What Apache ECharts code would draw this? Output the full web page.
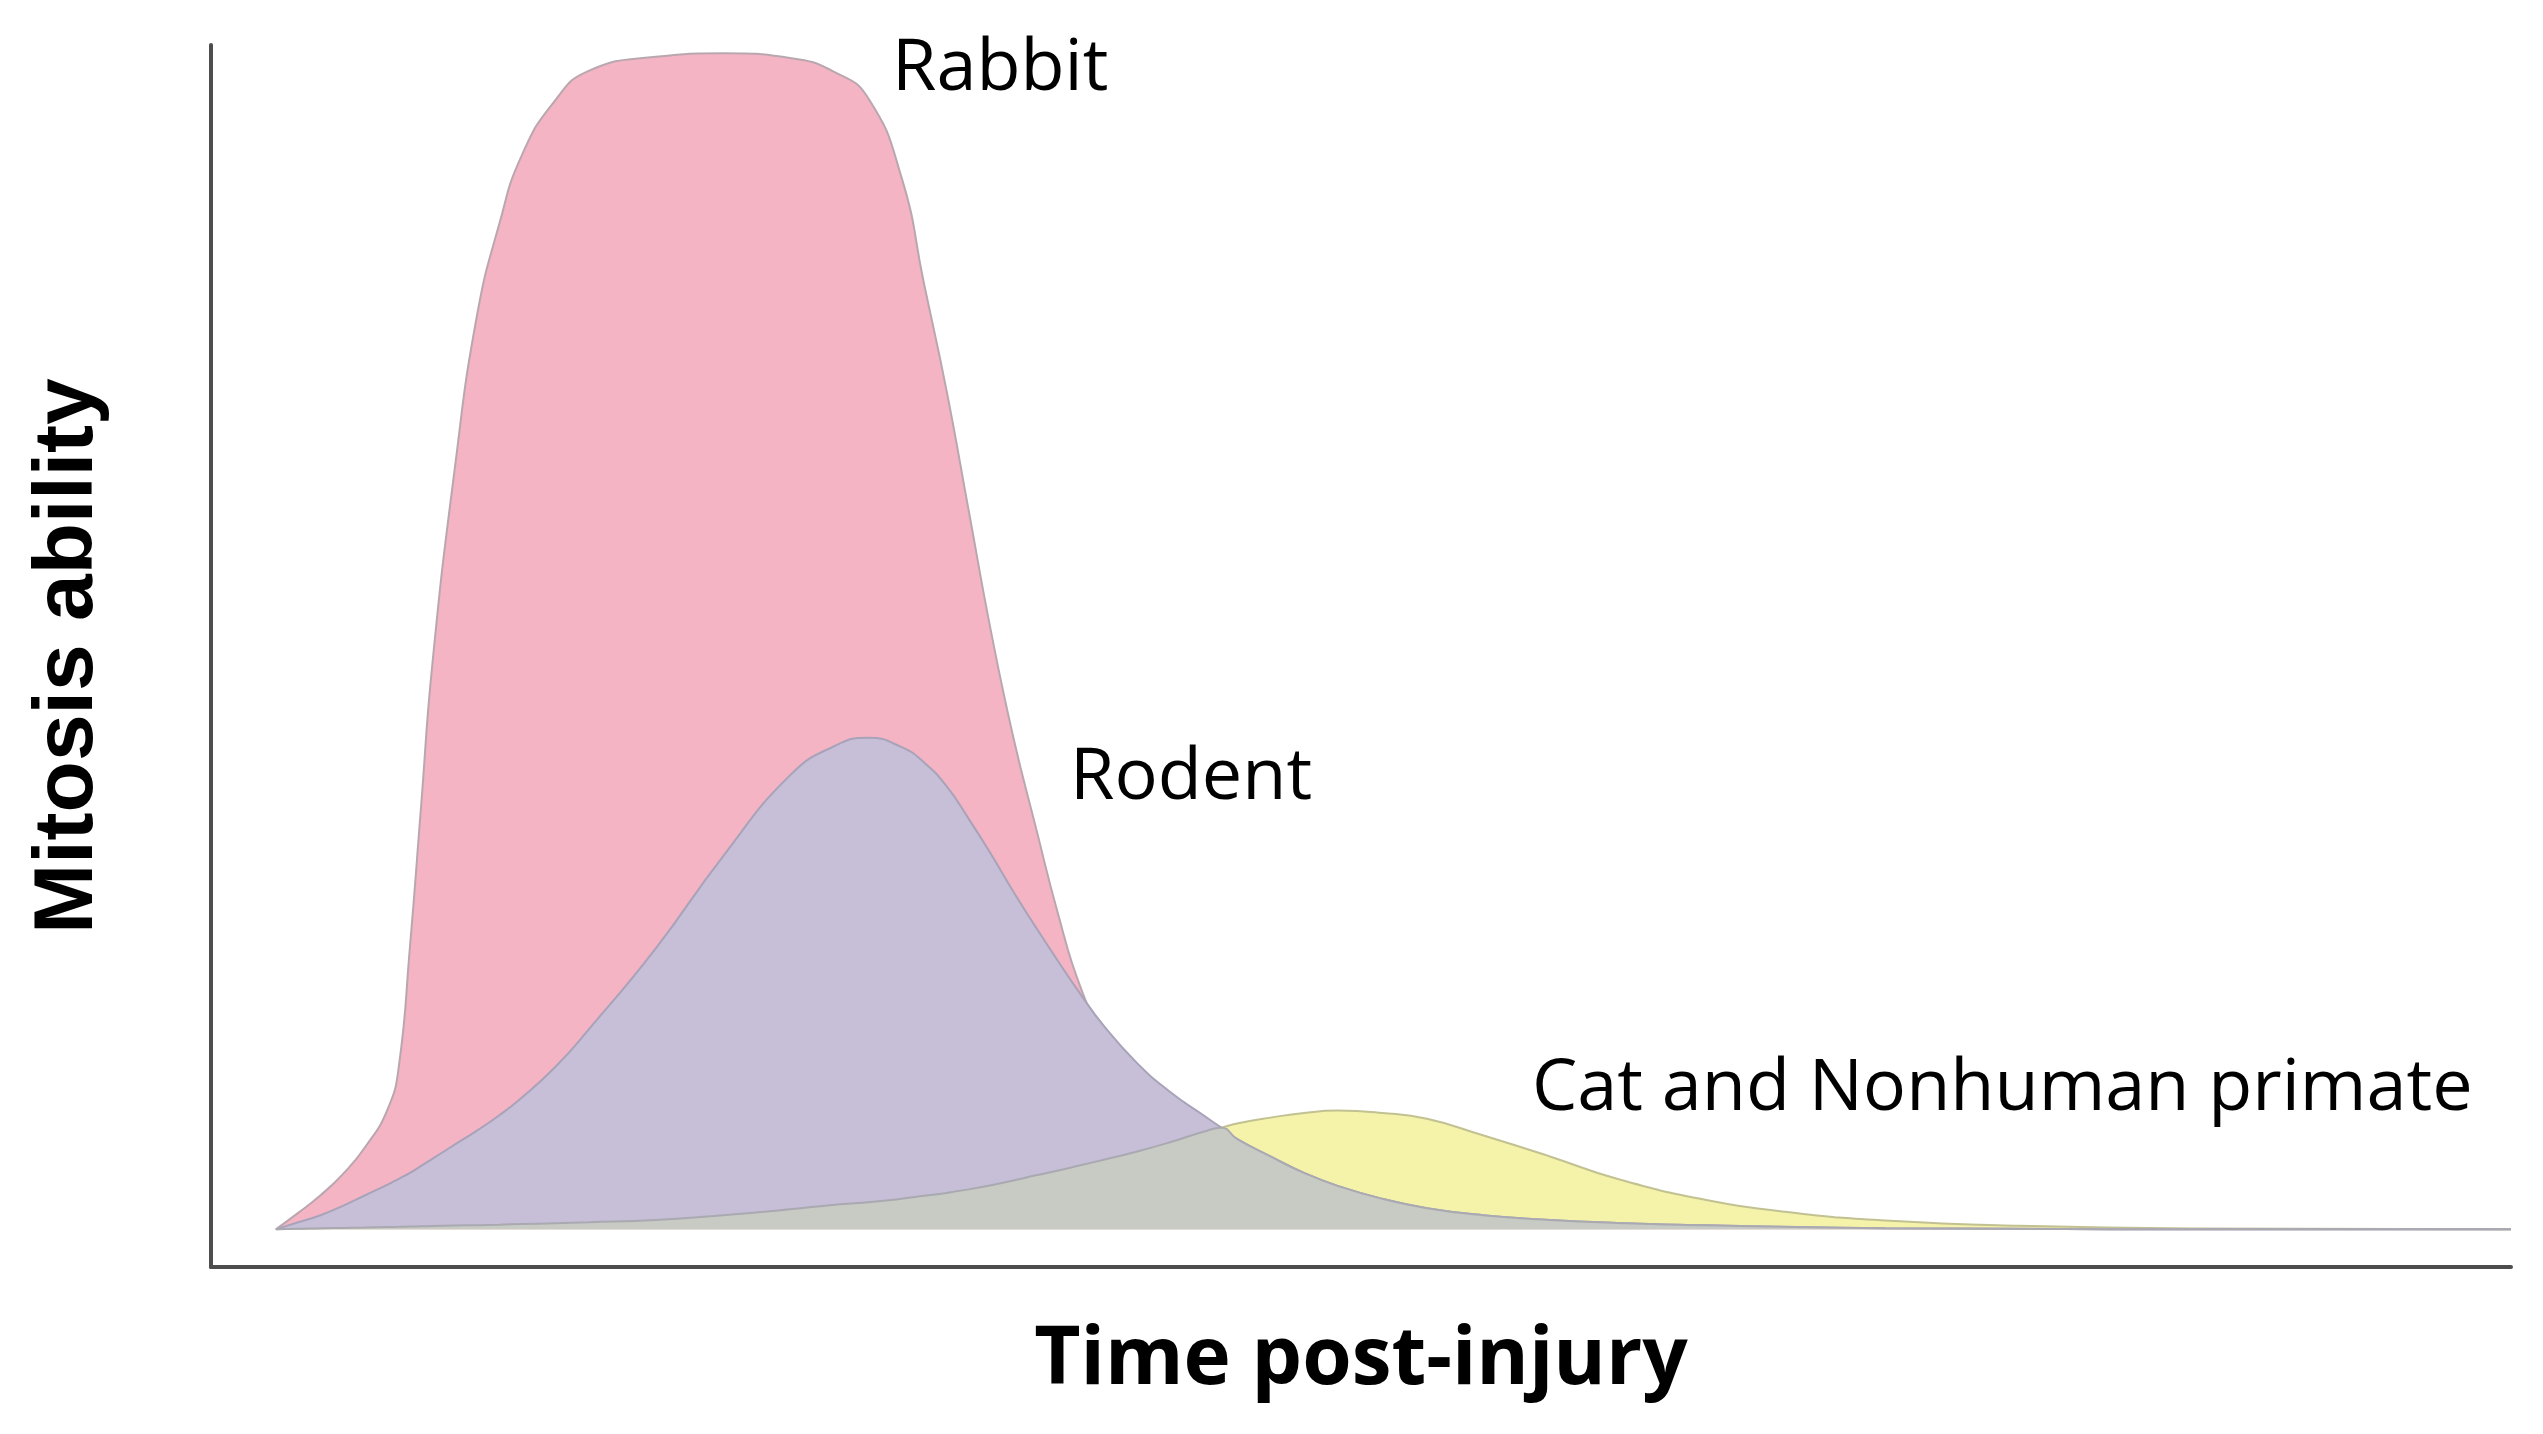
<!DOCTYPE html>
<html>
<head>
<meta charset="utf-8">
<title>Mitosis ability</title>
<script src="https://cdn.jsdelivr.net/npm/echarts@6/dist/echarts.min.js"></script>
<style>
  html, body { margin: 0; padding: 0; background: #fff; }
  #chart { width: 2543px; height: 1434px; }
</style>
</head>
<body>
<div id="chart"></div>
<script>
// time post-injury (arbitrary units) shared by all curves
var times = [0, 1, 2, 3, 4, 5, 5.5, 6, 6.5, 7, 8, 9, 10, 11, 12.5, 14, 17, 20, 23, 25,
  26.5, 28, 29, 30, 31, 32, 33, 34, 35, 36, 37, 38.5, 40, 41.5, 42.3, 43, 44.5, 46, 47.5, 49.5,
  51.5, 54, 57, 60, 64, 68, 72, 78, 86, 100];

// mitosis ability (rabbit peak = 100)
var rabbit = [0, 1.4, 2.9, 4.7, 7.0, 10.2, 13.8, 24, 36, 48, 64.6, 77.7, 85.5, 91.3, 96.0, 98.5, 99.7, 100, 99.6, 98.4,
  96.2, 89.4, 80.4, 71.4, 61.1, 50.8, 41.8, 34.2, 26.8, 20.6, 16.8, 13.8, 11.3, 9.3, 8.3, 7.4, 5.9, 4.6, 3.5, 2.5,
  1.7, 1.1, 0.7, 0.5, 0.3, 0.2, 0.1, 0.05, 0, 0];
var rodent = [0, 0.6, 1.2, 2.0, 2.9, 3.8, 4.3, 4.8, 5.4, 6.0, 7.2, 8.4, 9.7, 11.2, 13.8, 17.0, 23.9, 31.7, 38.6, 41.1,
  41.8, 41.0, 39.7, 37.7, 34.9, 31.9, 28.7, 25.7, 22.8, 20.0, 17.4, 14.2, 11.7, 9.7, 8.65, 7.7, 6.2, 4.8, 3.7, 2.6,
  1.8, 1.2, 0.8, 0.55, 0.35, 0.2, 0.1, 0.05, 0, 0];
var cat = [0, 0.05, 0.1, 0.12, 0.15, 0.2, 0.22, 0.24, 0.26, 0.28, 0.32, 0.36, 0.4, 0.45, 0.52, 0.6, 0.8, 1.2, 1.7, 2.1,
  2.3, 2.6, 2.85, 3.1, 3.4, 3.75, 4.15, 4.6, 5.0, 5.45, 5.9, 6.6, 7.4, 8.3, 8.65, 9.0, 9.5, 9.9, 10.1, 9.9,
  9.4, 8.0, 6.2, 4.3, 2.5, 1.4, 0.75, 0.3, 0.07, 0];

var seriesNames = ['Rabbit', 'Rodent', 'Cat and Nonhuman primate'];

function pairs(vals) {
  return vals.map(function (v, i) { return [times[i], v]; });
}
// where rodent and cat overlap the mix shows as grey
var overlap = cat.map(function (v, i) { return Math.min(v, rodent[i]); });

var myChart = echarts.init(document.getElementById('chart'), null, { renderer: 'canvas' });

function area(name, vals, fill, stroke, z) {
  return {
    name: name,
    type: 'line',
    data: pairs(vals),
    smooth: 0.5,
    symbol: 'none',
    z: z,
    lineStyle: { color: stroke, width: 2 },
    areaStyle: { color: fill, opacity: 1 }
  };
}

var axisCommon = {
  type: 'value',
  nameLocation: 'middle',
  axisLine: { show: true, onZero: false, lineStyle: { color: '#4d4d4d', width: 4 } },
  axisTick: { show: false },
  axisLabel: { show: false },
  splitLine: { show: false }
};

var option = {
  animation: false,
  backgroundColor: '#ffffff',
  grid: { left: 211, right: 32, top: 45, bottom: 167 },
  xAxis: Object.assign({}, axisCommon, {
    min: -2.9,
    max: 100,
    name: 'Time post-injury',
    nameGap: 54,
    nameTextStyle: { fontFamily: 'Open Sans', fontWeight: 'bold', fontSize: 80, color: '#000' }
  }),
  yAxis: Object.assign({}, axisCommon, {
    min: -3.2,
    max: 100.7,
    name: 'Mitosis ability',
    nameGap: 100,
    nameTextStyle: { fontFamily: 'Liberation Sans', fontWeight: 'bold', fontSize: 84, color: '#000' }
  }),
  series: [
    area(seriesNames[0], rabbit, '#f5b4c4', '#b9a7b0', 1),
    area(seriesNames[2], cat, '#f5f3a9', '#c2c192', 2),
    area(seriesNames[1], rodent, '#c6bfd7', '#a8a3b9', 3),
    area('overlap', overlap, '#c7cbc3', '#aaa9b2', 4)
  ],
  graphic: [
    { type: 'text', left: 892, top: 73 - 40, style: { text: 'Rabbit', font: '72px "Open Sans"', fill: '#000' } },
    { type: 'text', left: 1070, top: 782 - 40, style: { text: 'Rodent', font: '72px "Open Sans"', fill: '#000' } },
    { type: 'text', left: 1532, top: 1093 - 40, style: { text: 'Cat and Nonhuman primate', font: '72px "Open Sans"', fill: '#000' } }
  ]
};

myChart.setOption(option);
window.addEventListener('resize', function () {
  myChart.resize();
});
</script>
</body>
</html>
